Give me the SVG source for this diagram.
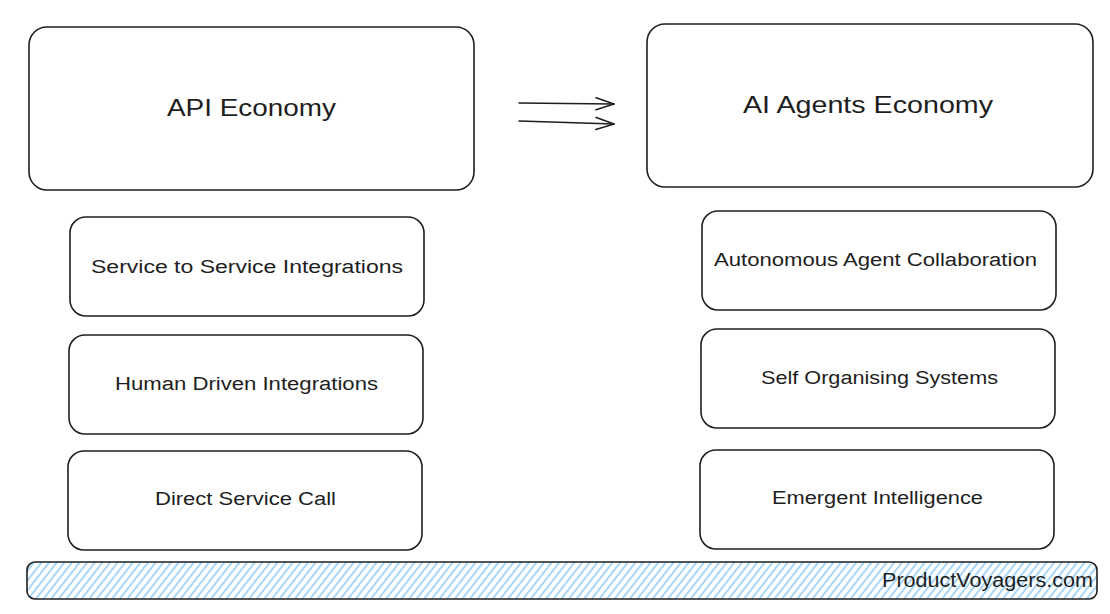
<svg xmlns="http://www.w3.org/2000/svg" width="1110" height="614" viewBox="0 0 1110 614">
<style>
.box{fill:#ffffff;stroke:#1e1e1e;stroke-width:1.6}
.t{font-family:"Liberation Sans","Noto Sans",sans-serif;fill:#1e1e1e;text-anchor:middle}
.big{font-size:24px}
.sm{font-size:18px}
.conn{fill:none;stroke:#1e1e1e;stroke-width:1.6;stroke-linecap:round}
</style>
<defs>
<marker id="open" viewBox="0 0 20 16" refX="19" refY="8" markerWidth="20" markerHeight="16" markerUnits="userSpaceOnUse" orient="auto">
<path d="M1,2 L19,8 L1,14" fill="none" stroke="#1e1e1e" stroke-width="1.6" stroke-linecap="round" stroke-linejoin="round"/>
</marker>
<pattern id="hatch" width="6" height="6" patternUnits="userSpaceOnUse" patternTransform="rotate(38)">
<line x1="1" y1="0" x2="1" y2="6" stroke="#8cc8f5" stroke-width="1.5"/>
</pattern>
</defs>
<rect width="1110" height="614" fill="#ffffff"/>

<g id="api-economy">
<rect class="box" x="29" y="27" width="445" height="163" rx="18"/>
<text class="t big" x="251.5" y="116" textLength="169" lengthAdjust="spacingAndGlyphs">API Economy</text>
</g>
<g id="ai-agents-economy">
<rect class="box" x="647" y="24" width="446" height="163" rx="18"/>
<text class="t big" x="868" y="113" textLength="250" lengthAdjust="spacingAndGlyphs">AI Agents Economy</text>
</g>

<g id="service-to-service">
<rect class="box" x="70" y="217" width="354" height="99" rx="16"/>
<text class="t sm" x="247" y="273" textLength="312" lengthAdjust="spacingAndGlyphs">Service to Service Integrations</text>
</g>
<g id="human-driven">
<rect class="box" x="69" y="335" width="354" height="99" rx="16"/>
<text class="t sm" x="246.5" y="390" textLength="263" lengthAdjust="spacingAndGlyphs">Human Driven Integrations</text>
</g>
<g id="direct-service-call">
<rect class="box" x="68" y="451" width="354" height="99" rx="16"/>
<text class="t sm" x="245.5" y="505" textLength="181" lengthAdjust="spacingAndGlyphs">Direct Service Call</text>
</g>

<g id="autonomous-agent">
<rect class="box" x="702" y="211" width="354" height="99" rx="16"/>
<text class="t sm" x="875.5" y="266" textLength="323" lengthAdjust="spacingAndGlyphs">Autonomous Agent Collaboration</text>
</g>
<g id="self-organising">
<rect class="box" x="701" y="329" width="354" height="99" rx="16"/>
<text class="t sm" x="879.5" y="384" textLength="237" lengthAdjust="spacingAndGlyphs">Self Organising Systems</text>
</g>
<g id="emergent-intelligence">
<rect class="box" x="700" y="450" width="354" height="99" rx="16"/>
<text class="t sm" x="877.5" y="504" textLength="211" lengthAdjust="spacingAndGlyphs">Emergent Intelligence</text>
</g>

<g id="footer-bar">
<rect x="27" y="562" width="1070" height="37" rx="8" fill="url(#hatch)" stroke="#1e1e1e" stroke-width="1.6"/>
<text class="t" x="1093" y="587" font-size="20" style="text-anchor:end" textLength="211" lengthAdjust="spacingAndGlyphs">ProductVoyagers.com</text>
</g>

<g id="connectors">
<line class="conn" x1="519" y1="103" x2="614" y2="104" marker-end="url(#open)"/>
<line class="conn" x1="519" y1="121" x2="614" y2="124" marker-end="url(#open)"/>
</g>
</svg>
